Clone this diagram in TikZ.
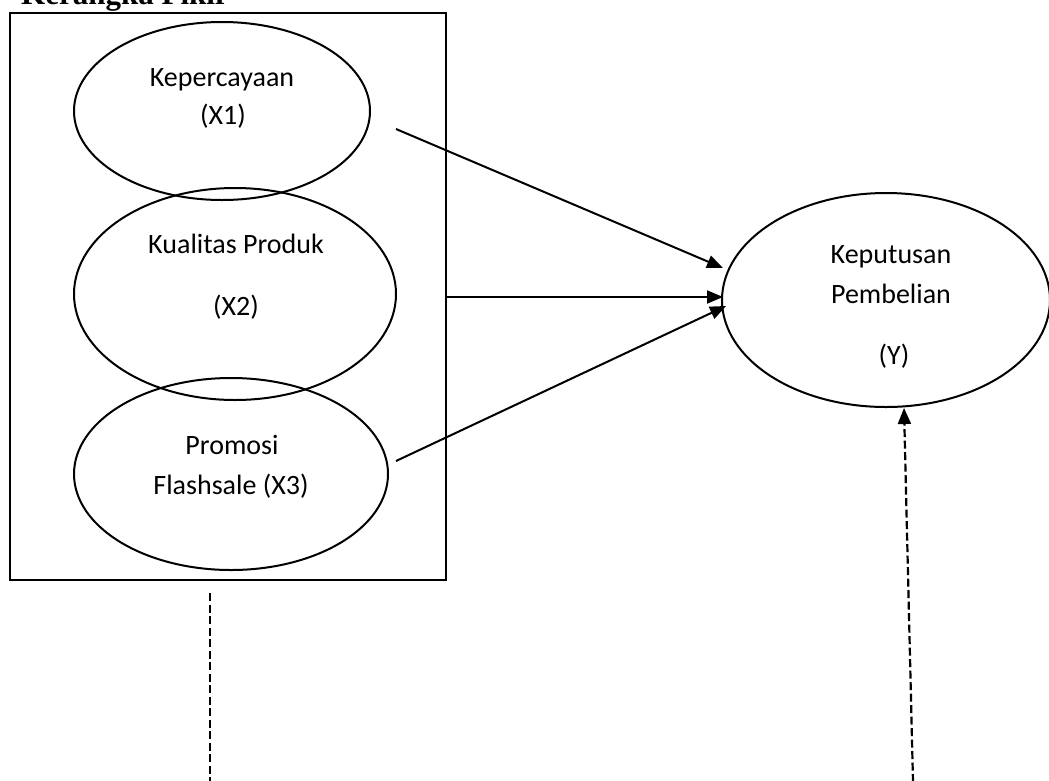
\documentclass[tikz,border=0pt]{standalone}
\usepackage{fontspec}
\setmainfont{Carlito}
\newfontfamily\titlefont{Liberation Serif}
\usetikzlibrary{shapes.geometric,arrows.meta}
\begin{document}
\begin{tikzpicture}[x=1pt,y=-1pt,
  oval/.style={ellipse,draw,line width=2pt,inner sep=0pt},
  lbl/.style={anchor=base,inner sep=0pt,font=\fontsize{28}{34}\selectfont},
  solidarrow/.style={line width=2pt,-{Triangle[length=16pt,width=13pt]}},
  dashline/.style={line width=2.2pt,dash pattern=on 8pt off 3.5pt}]
\useasboundingbox (0,0) rectangle (1049,780);
\clip (0,0) rectangle (1049,780);
% title (cut at top)
\node[anchor=base west,inner sep=0pt,font=\titlefont\bfseries\fontsize{31}{36}\selectfont] (title) at (21,4) {Kerangka Pikir};
% frame
\node[draw,line width=2pt,minimum width=436pt,minimum height=567pt,inner sep=0pt] (frame) at (228,296.5) {};
% ellipses
\node[oval,minimum width=296pt,minimum height=178pt] (e1) at (222,111) {};
\node[oval,minimum width=322pt,minimum height=212pt] (e2) at (235,294) {};
\node[oval,minimum width=314pt,minimum height=192pt] (e3) at (231,474) {};
\node[oval,minimum width=328pt,minimum height=214pt] (ey) at (886,300) {};
% labels
\node[lbl] (t1a) at (222,86) {Kepercayaan};
\node[lbl] (t1b) at (223,124) {(X1)};
\node[lbl] (t2a) at (236,253) {Kualitas Produk};
\node[lbl] (t2b) at (236,315) {(X2)};
\node[lbl] (t3a) at (232,454) {Promosi};
\node[lbl] (t3b) at (231,494) {Flashsale (X3)};
\node[lbl] (tya) at (891,263) {Keputusan};
\node[lbl] (tyb) at (891,303) {Pembelian};
\node[lbl] (tyc) at (894,364) {(Y)};
% connector ends
\coordinate (s1) at (396,129);
\coordinate (s2) at (frame.east |- 0,297);
\coordinate (s3) at (396,461);
\coordinate (y1) at (723,268);
\coordinate (y2) at (723,297);
\coordinate (y3) at (726,306);
\coordinate (d1top) at (210,593);
\coordinate (d1bot) at (210,782);
\coordinate (d2bot) at (913,782);
\coordinate (d2top) at (ey.south -| 904,0);
\draw[solidarrow] (s1) -- (y1);
\draw[solidarrow] (s2) -- (y2);
\draw[solidarrow] (s3) -- (y3);
\draw[dashline] (d1top) -- (d1bot);
\draw[dashline,-{Triangle[length=16pt,width=13pt]}] (d2bot) -- (d2top);
\end{tikzpicture}
\end{document}
